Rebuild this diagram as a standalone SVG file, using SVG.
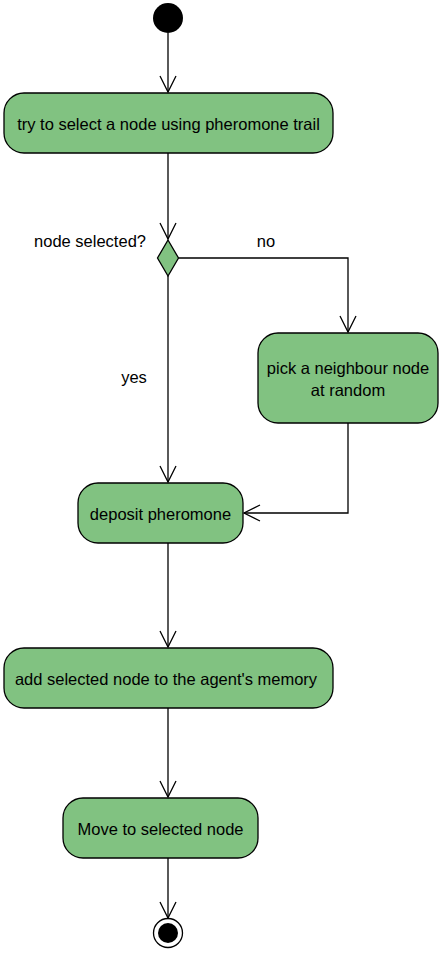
<svg xmlns="http://www.w3.org/2000/svg" width="444" height="954" viewBox="0 0 444 954">
<style>
.n{fill:#81c281;stroke:#000;stroke-width:1.3}
.t{font-family:"Liberation Sans",Arial,sans-serif;font-size:16.5px;fill:#000;text-anchor:middle;dominant-baseline:central}
.c{fill:none;stroke:#000;stroke-width:1.3}
.a{fill:none;stroke:#000;stroke-width:1.3}
</style>
<rect width="444" height="954" fill="#fff"/>
<g id="start"><circle cx="168" cy="18" r="15" fill="#000"/></g>
<g id="n1"><rect class="n" x="4" y="93" width="329" height="60" rx="20"/><text class="t" x="168.5" y="124">try to select a node using pheromone trail</text></g>
<g id="decision"><polygon class="n" points="168,240 178.5,258 168,276 157.5,258"/><text class="t" x="146" y="241" style="text-anchor:end">node selected?</text></g>
<g id="n2"><rect class="n" x="258" y="333" width="180" height="90" rx="20"/><text class="t" x="348" y="368">pick a neighbour node</text><text class="t" x="348" y="390">at random</text></g>
<g id="n3"><rect class="n" x="78" y="483" width="165" height="60" rx="20"/><text class="t" x="160.5" y="514">deposit pheromone</text></g>
<g id="n4"><rect class="n" x="4" y="648" width="329" height="60" rx="20"/><text class="t" x="166" y="679">add selected node to the agent's memory</text></g>
<g id="n5"><rect class="n" x="63" y="798" width="195" height="60" rx="20"/><text class="t" x="160.5" y="829">Move to selected node</text></g>
<g id="end"><circle cx="168" cy="933" r="14.5" fill="#fff" stroke="#000" stroke-width="1.3"/><circle cx="168" cy="933" r="10" fill="#000"/></g>
<g id="connectors">
<path class="c" d="M168,33V92"/><path class="a" d="M160,76L168,92L176,76"/>
<path class="c" d="M168,153V239"/><path class="a" d="M160,223L168,239L176,223"/>
<path class="c" d="M178.5,258H348V332"/><path class="a" d="M340,316L348,332L356,316"/>
<text class="t" x="266" y="241">no</text>
<path class="c" d="M168,276V482"/><path class="a" d="M160,466L168,482L176,466"/>
<text class="t" x="134" y="377">yes</text>
<path class="c" d="M348,423V513H244"/><path class="a" d="M260,505L244,513L260,521"/>
<path class="c" d="M168,543V647"/><path class="a" d="M160,631L168,647L176,631"/>
<path class="c" d="M168,708V797"/><path class="a" d="M160,781L168,797L176,781"/>
<path class="c" d="M168,858V918"/><path class="a" d="M160,902L168,918L176,902"/>
</g>
</svg>
